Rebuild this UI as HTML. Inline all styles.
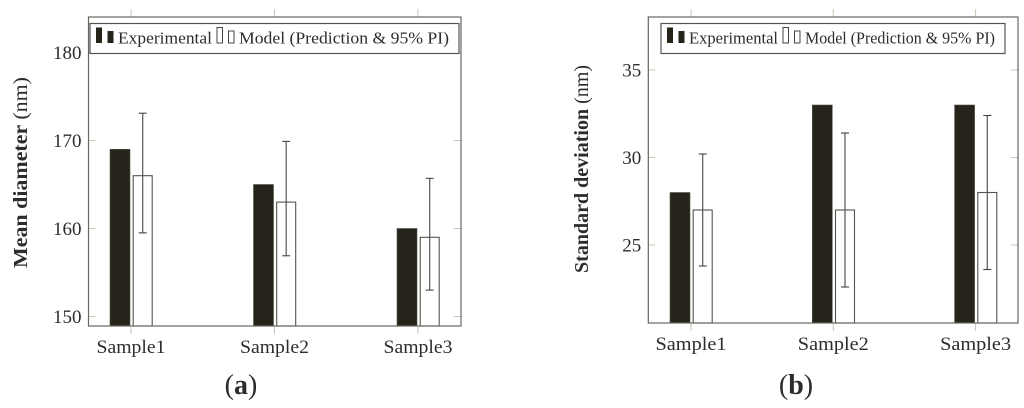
<!DOCTYPE html>
<html>
<head>
<meta charset="utf-8">
<title>Mean diameter and standard deviation by sample</title>
<style>
html,body{margin:0;padding:0;background:#fff;width:1024px;height:408px;overflow:hidden}
svg{display:block}
text{font-family:"Liberation Serif",serif;fill:#2c2c2c}
</style>
</head>
<body>
<svg id="figure" xmlns="http://www.w3.org/2000/svg" width="1024" height="408" viewBox="0 0 1024 408">
  <rect width="1024" height="408" fill="#fff"/>
  <g id="chart-a"></g>
  <g id="chart-b"></g>
</svg>
<script>
// Shared categories
const categories = ['Sample1', 'Sample2', 'Sample3'];

// Chart (a): mean diameter values
const aExperimental = [169, 165, 160];
const aModel = [166, 163, 159];
const aUpper = [173.1, 169.9, 165.7];
const aLower = [159.5, 156.9, 153];
const aTicks = [150, 160, 170, 180];

// Chart (b): standard deviation values
const bExperimental = [28, 33, 33];
const bModel = [27, 27, 28];
const bUpper = [30.2, 31.4, 32.4];
const bLower = [23.8, 22.6, 23.6];
const bTicks = [25, 30, 35];

const NS = 'http://www.w3.org/2000/svg';
const DARK = '#26241a';
const FRAME = '#666660';
const TICK = '#c9c4b4';

function make(parent, tag, attrs, content) {
  const el = document.createElementNS(NS, tag);
  for (const k in attrs) el.setAttribute(k, attrs[k]);
  if (content !== undefined) el.textContent = content;
  parent.appendChild(el);
  return el;
}

function drawChart(o) {
  const g = document.getElementById(o.id);
  const yScale = v => o.y0 - (v - o.v0) * o.pxPerUnit;
  const xScale = i => o.cx0 + i * o.step;

  // ticks on all four sides
  categories.forEach((c, i) => {
    const x = xScale(i);
    const top = make(g, 'line', {x1: x, x2: x, y1: o.top - 8, y2: o.top, stroke: TICK, 'stroke-width': 1});
    
    
    const bottom = make(g, 'line', {x1: x, x2: x, y1: o.bottom, y2: o.bottom + 8, stroke: TICK, 'stroke-width': 1});
    
    
    const label = make(g, 'text', {x: x, y: o.bottom + o.catDy, 'text-anchor': 'middle', 'font-size': 18.5, textLength: o.catW, lengthAdjust: 'spacingAndGlyphs'}, c);
    
    
  });
  o.ticks.forEach(t => {
    const y = yScale(t);
    const left = make(g, 'line', {x1: o.left, x2: o.left + 7, y1: y, y2: y, stroke: TICK, 'stroke-width': 1});
    
    
    const right = make(g, 'line', {x1: o.right - 7, x2: o.right, y1: y, y2: y, stroke: TICK, 'stroke-width': 1});
    
    
    const label = make(g, 'text', {x: o.left - 7, y: y + 6.5, 'text-anchor': 'end', 'font-size': 19}, String(t));
    
    
  });

  // bars and error bars
  categories.forEach((c, i) => {
    const cx = xScale(i);
    const e = make(g, 'rect', {x: cx - 21, y: yScale(o.exp[i]), width: 20, height: o.bottom - yScale(o.exp[i]), fill: DARK, stroke: '#55534a', 'stroke-width': 0.6});
    
    
    const m = make(g, 'rect', {x: cx + 2.2, y: yScale(o.model[i]), width: 19, height: o.bottom - yScale(o.model[i]), fill: '#fff', stroke: '#55534a', 'stroke-width': 1.1});
    
    
    const ex = cx + 11.7;
    const stem = make(g, 'line', {x1: ex, x2: ex, y1: yScale(o.upper[i]), y2: yScale(o.lower[i]), stroke: '#555550', 'stroke-width': 1.2});
    
    
    const capTop = make(g, 'line', {x1: ex - 4, x2: ex + 4, y1: yScale(o.upper[i]), y2: yScale(o.upper[i]), stroke: '#444440', 'stroke-width': 1.1});
    
    
    const capBottom = make(g, 'line', {x1: ex - 4, x2: ex + 4, y1: yScale(o.lower[i]), y2: yScale(o.lower[i]), stroke: '#444440', 'stroke-width': 1.1});
    
    
  });

  // frame
  const frame = make(g, 'rect', {x: o.left, y: o.top, width: o.right - o.left, height: o.bottom - o.top, fill: 'none', stroke: FRAME, 'stroke-width': 1.2});
  
  

  // legend
  const L = o.legend;
  const box = make(g, 'rect', {x: L.x, y: 23.5, width: L.w, height: 30, fill: '#fff', stroke: '#55554f', 'stroke-width': 1.2});
  
  
  const s1 = make(g, 'rect', {x: L.s1, y: 27.5, width: 6, height: 15.5, fill: DARK});
  
  
  const s2 = make(g, 'rect', {x: L.s1 + 11.5, y: 31, width: 6, height: 12, fill: DARK});
  
  
  const t1 = make(g, 'text', {x: L.t1, y: 43.5, 'font-size': 16.5, textLength: L.t1w, lengthAdjust: 'spacingAndGlyphs'}, 'Experimental');
  
  
  const s3 = make(g, 'rect', {x: L.s2, y: 27.5, width: 5.5, height: 15.5, fill: '#fff', stroke: '#444', 'stroke-width': 1});
  
  
  const s4 = make(g, 'rect', {x: L.s2 + 11.5, y: 31, width: 5.5, height: 12, fill: '#fff', stroke: '#444', 'stroke-width': 1});
  
  
  const t2 = make(g, 'text', {x: L.t2, y: 43.5, 'font-size': 16.5, textLength: L.t2w, lengthAdjust: 'spacingAndGlyphs'}, 'Model (Prediction & 95% PI)');
  
  

  // y axis title
  const yt = make(g, 'text', {transform: 'translate(' + o.titleX + ',' + o.titleY + ') rotate(-90)', 'text-anchor': 'middle', 'font-size': 19.5, textLength: o.titleW, lengthAdjust: 'spacingAndGlyphs'});
  
  
  make(yt, 'tspan', {'font-weight': 'bold'}, o.title + ' ');
  make(yt, 'tspan', {}, '(nm)');

  // panel caption
  const cap = make(g, 'text', {x: o.capX, y: 394, 'text-anchor': 'middle', 'font-size': 28});
  
  
  make(cap, 'tspan', {}, '(');
  make(cap, 'tspan', {'font-weight': 'bold'}, o.capLetter);
  make(cap, 'tspan', {}, ')');
}

drawChart({
  id: 'chart-a', left: 88.5, right: 461, top: 17, bottom: 326,
  y0: 316.5, v0: 150, pxPerUnit: 8.8, cx0: 131, step: 143.5,
  exp: aExperimental, model: aModel, upper: aUpper, lower: aLower, ticks: aTicks,
  catDy: 27, catW: 69,
  legend: {x: 90, w: 369, s1: 96, t1: 118, t1w: 94, s2: 217, t2: 239, t2w: 210},
  title: 'Mean diameter', titleX: 27, titleY: 172.5, titleW: 191,
  capX: 241, capLetter: 'a'
});
drawChart({
  id: 'chart-b', left: 648.3, right: 1018, top: 17, bottom: 323,
  y0: 245, v0: 25, pxPerUnit: 17.5, cx0: 691, step: 142.3,
  exp: bExperimental, model: bModel, upper: bUpper, lower: bLower, ticks: bTicks,
  catDy: 27, catW: 71,
  legend: {x: 661, w: 344, s1: 667, t1: 689, t1w: 89, s2: 783, t2: 805, t2w: 190},
  title: 'Standard deviation', titleX: 588, titleY: 169, titleW: 208,
  capX: 796, capLetter: 'b'
});
</script>
</body>
</html>
